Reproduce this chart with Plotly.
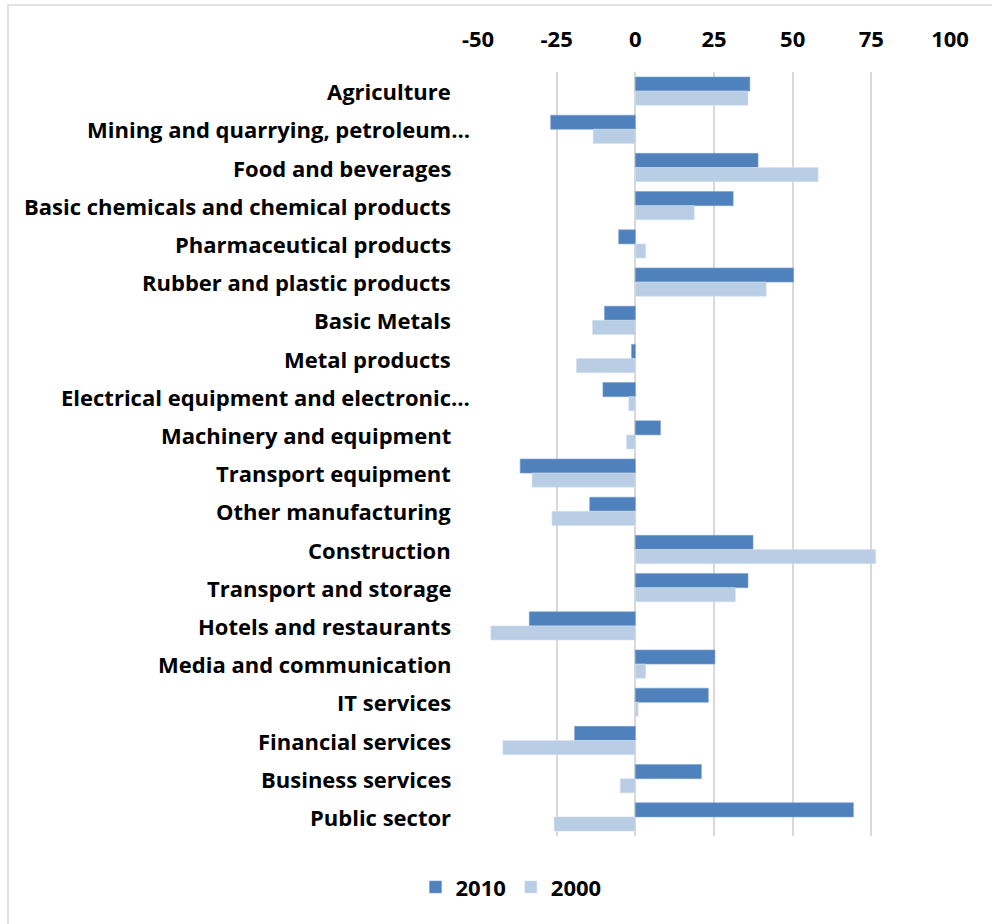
import plotly.graph_objects as go

# Sector categories, top to bottom
categories = [
    "Agriculture",
    "Mining and quarrying, petroleum…",
    "Food and beverages",
    "Basic chemicals and chemical products",
    "Pharmaceutical products",
    "Rubber and plastic products",
    "Basic Metals",
    "Metal products",
    "Electrical equipment and electronic…",
    "Machinery and equipment",
    "Transport equipment",
    "Other manufacturing",
    "Construction",
    "Transport and storage",
    "Hotels and restaurants",
    "Media and communication",
    "IT services",
    "Financial services",
    "Business services",
    "Public sector",
]

values_2010 = [36.4, -26.9, 39.0, 31.1, -5.3, 50.3, -9.8, -1.2, -10.3, 8.0,
               -36.6, -14.5, 37.4, 35.8, -33.7, 25.3, 23.2, -19.3, 21.0, 69.3]
values_2000 = [35.8, -13.4, 58.1, 18.7, 3.3, 41.6, -13.6, -18.7, -2.1, -2.8,
               -32.8, -26.5, 76.4, 31.8, -45.9, 3.3, 0.9, -42.1, -4.8, -25.8]

x_ticks = [-50, -25, 0, 25, 50, 75, 100]

FONT = "Open Sans"
TEXT = "#000000"
SIZE = 22

fig = go.Figure()
fig.add_trace(go.Bar(
    name="2010", y=categories, x=values_2010, orientation="h",
    marker=dict(color="#4F81BD", line=dict(color="#7EA1CF", width=0.6)),
))
fig.add_trace(go.Bar(
    name="2000", y=categories, x=values_2000, orientation="h",
    marker=dict(color="#B9CDE5", line=dict(color="#D3E0EF", width=0.6)),
))

# Category labels, right-aligned left of the plot area
for cat in categories:
    shift = -6 if cat.endswith("…") else -25
    fig.add_annotation(
        x=0, xref="paper", y=cat, yref="y", text=cat, showarrow=False,
        xanchor="right", yanchor="middle", xshift=shift,
        font=dict(family=FONT, size=SIZE, color=TEXT, weight="bold"),
    )

# Outer chart border
fig.add_shape(
    type="rect", xref="paper", yref="paper",
    x0=(8 - 478) / 472, x1=(1000 - 478) / 472,
    y0=(836 - 940) / 764, y1=(836 - 5) / 764,
    line=dict(color="#D9D9D9", width=1.5), fillcolor="rgba(0,0,0,0)",
    layer="below",
)

fig.update_layout(
    width=992, height=924,
    margin=dict(l=478, r=42, t=72, b=88),
    paper_bgcolor="white", plot_bgcolor="white",
    barmode="group", bargap=0.26, bargroupgap=0,
    font=dict(family=FONT, size=SIZE, color=TEXT),
    showlegend=True,
    legend=dict(
        orientation="h", x=0.07, xanchor="center", y=-0.067, yanchor="middle",
        xref="paper", yref="paper",
        font=dict(family=FONT, size=SIZE, color=TEXT, weight="bold"),
        itemwidth=30, traceorder="normal",
    ),
)

fig.update_xaxes(
    range=[-50, 100], tickvals=x_ticks, ticktext=[str(v) for v in x_ticks],
    side="top", showgrid=True, gridcolor="#D9D9D9", gridwidth=1.5,
    zeroline=True, zerolinecolor="#D9D9D9", zerolinewidth=1.5,
    showline=False, ticks="", ticklabelstandoff=20,
    tickfont=dict(family=FONT, size=SIZE, color=TEXT, weight="bold"),
    fixedrange=True,
)
fig.update_yaxes(
    categoryorder="array", categoryarray=categories, autorange="reversed",
    showticklabels=False, showgrid=False, zeroline=False, showline=False,
    ticks="", fixedrange=True,
)

fig.write_html("out.html")
